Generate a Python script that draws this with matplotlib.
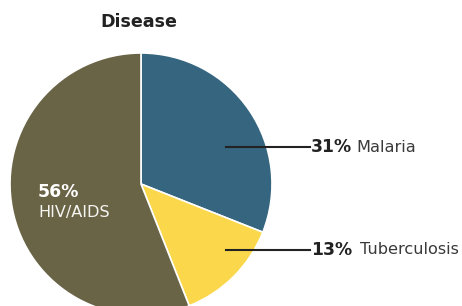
import matplotlib
matplotlib.use("Agg")
import matplotlib.pyplot as plt

categories = ["Malaria", "Tuberculosis", "HIV/AIDS"]
shares = [31, 13, 56]
colors = ["#35657F", "#FAD74B", "#6A6446"]

W, H = 462, 306
fig = plt.figure(figsize=(W / 100, H / 100), dpi=100)
ax = fig.add_axes([0, 0, 1, 1])

cx, cy, r = 141, H - 184, 131
ax.pie(shares, colors=colors, startangle=90, counterclock=False,
       center=(cx, cy), radius=r, frame=True,
       wedgeprops=dict(edgecolor="white", linewidth=1.2))
ax.set_xlim(0, W)
ax.set_ylim(0, H)
ax.set_aspect("equal")
ax.axis("off")

font = "DejaVu Sans"
ax.text(139, H - 22, "Disease", ha="center", va="center", fontsize=12.6,
        fontweight="bold", color="#222222", family=font)

fs = 11.6
fsb = 12.4
# Malaria label
ax.plot([226, 310], [H - 147, H - 147], color="#222222", lw=1.5)
ax.text(311, H - 147, f"{shares[0]}%", ha="left", va="center", fontsize=fsb,
        fontweight="bold", color="#222222", family=font)
ax.text(356, H - 147, categories[0], ha="left", va="center", fontsize=fs,
        color="#3a3a3a", family=font)

# Tuberculosis label
ax.plot([226, 310], [H - 250, H - 250], color="#222222", lw=1.5)
ax.text(311, H - 250, f"{shares[1]}%", ha="left", va="center", fontsize=fsb,
        fontweight="bold", color="#222222", family=font)
ax.text(360, H - 250, categories[1], ha="left", va="center", fontsize=fs,
        color="#3a3a3a", family=font)

# HIV label
ax.text(38, H - 192, f"{shares[2]}%", ha="left", va="center", fontsize=fsb,
        fontweight="bold", color="white", family=font)
ax.text(38, H - 213, categories[2], ha="left", va="center", fontsize=fs,
        color="#f4f4f0", family=font)

fig.savefig("out.png", dpi=100)
